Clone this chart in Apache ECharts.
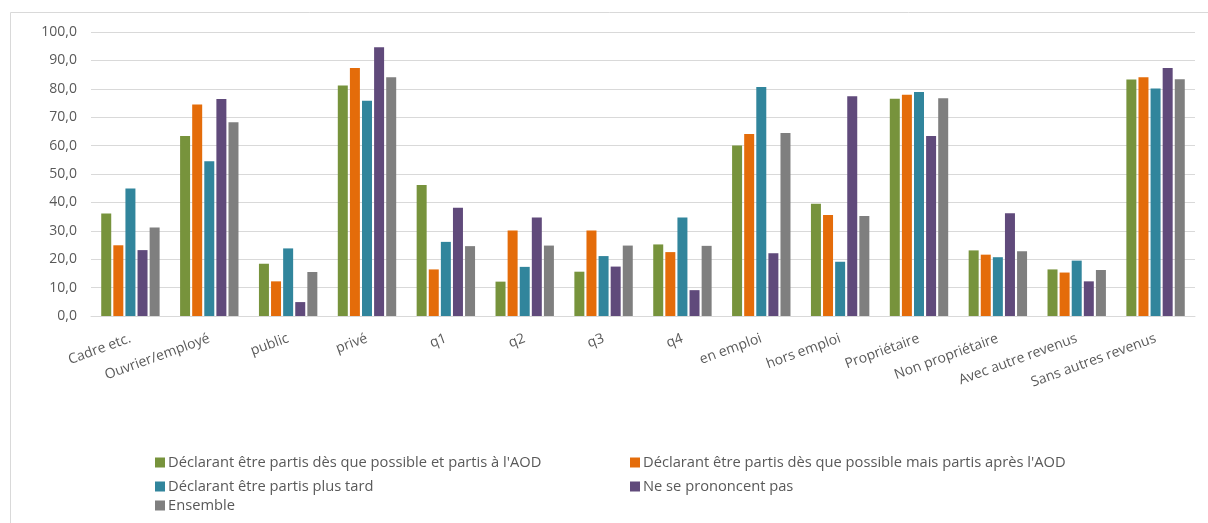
<!DOCTYPE html>
<html>
<head>
<meta charset="utf-8">
<script src="https://cdn.jsdelivr.net/npm/echarts@6/dist/echarts.min.js"></script>
<style>
  html, body { margin: 0; padding: 0; background: #ffffff; }
  #chart { width: 1208px; height: 523px; }
</style>
</head>
<body>
<div id="chart"></div>
<script>
// Categories on the horizontal axis
const categories = [
  'Cadre etc.', 'Ouvrier/employé', 'public', 'privé', 'q1', 'q2', 'q3', 'q4',
  'en emploi', 'hors emploi', 'Propriétaire', 'Non propriétaire',
  'Avec autre revenus', 'Sans autres revenus'
];

// Series names
const seriesNames = [
  "Déclarant être partis dès que possible et partis à l'AOD",
  "Déclarant être partis dès que possible mais partis après l'AOD",
  'Déclarant être partis plus tard',
  'Ne se prononcent pas',
  'Ensemble'
];

// Values (%) per category
const partisAOD      = [36.1, 63.4, 18.4, 81.2, 46.1, 12.1, 15.6, 25.2, 60.0, 39.5, 76.5, 23.1, 16.4, 83.3];
const partisApresAOD = [24.9, 74.5, 12.2, 87.3, 16.4, 30.1, 30.1, 22.5, 64.1, 35.6, 77.9, 21.6, 15.3, 84.1];
const partisPlusTard = [44.9, 54.5, 23.8, 75.8, 26.1, 17.3, 21.1, 34.7, 80.6, 19.1, 78.9, 20.7, 19.5, 80.1];
const nePrononcent   = [23.2, 76.4,  4.9, 94.6, 38.1, 34.7, 17.4,  9.1, 22.1, 77.4, 63.4, 36.2, 12.2, 87.3];
const ensemble       = [31.2, 68.2, 15.5, 84.1, 24.6, 24.8, 24.8, 24.7, 64.4, 35.2, 76.7, 22.8, 16.2, 83.4];

const seriesData = [partisAOD, partisApresAOD, partisPlusTard, nePrononcent, ensemble];
const colors = ['#77933C', '#E46C0A', '#31859C', '#604A7B', '#7F7F7F'];

// Y axis range
const yMin = 0, yMax = 100, yStep = 10;

const textColor = '#595959';
const gridColor = '#d9d9d9';
const axisFont = "'Open Sans', 'Liberation Sans', sans-serif";
const legendFont = "'Liberation Sans Narrow', 'Open Sans', sans-serif";

// Legend positions: two columns, three rows
const legendSlots = [
  { left: 155, top: 455 },
  { left: 630, top: 455 },
  { left: 155, top: 479 },
  { left: 630, top: 479 },
  { left: 155, top: 498 }
];

const chart = echarts.init(document.getElementById('chart'), null, { renderer: 'canvas' });

chart.setOption({
  animation: false,
  color: colors,
  grid: { left: 91, right: 13, top: 32, bottom: 207, containLabel: false },
  legend: seriesNames.map((name, i) => ({
    data: [name],
    left: legendSlots[i].left,
    top: legendSlots[i].top,
    icon: 'rect',
    itemWidth: 10,
    itemHeight: 10,
    padding: 0,
    textStyle: { color: textColor, fontSize: 14.7, fontFamily: legendFont, padding: [0, 0, 0, -2] }
  })),
  xAxis: {
    type: 'category',
    data: categories,
    axisLine: { show: true, lineStyle: { color: gridColor, width: 1 } },
    axisTick: { show: false },
    axisLabel: {
      rotate: 20,
      interval: 0,
      margin: 22,
      color: textColor,
      fontSize: 14,
      fontFamily: axisFont
    }
  },
  yAxis: {
    type: 'value',
    min: yMin,
    max: yMax,
    interval: yStep,
    axisLine: { show: false },
    axisTick: { show: false },
    splitLine: { show: true, lineStyle: { color: gridColor, width: 1 } },
    axisLabel: {
      margin: 14,
      color: textColor,
      fontSize: 14,
      fontFamily: axisFont,
      formatter: v => v.toFixed(1).replace('.', ',')
    }
  },
  series: seriesNames.map((name, i) => ({
    name: name,
    type: 'bar',
    data: seriesData[i],
    barWidth: 10,
    barGap: '21%',
    itemStyle: { color: colors[i] }
  })),
  graphic: [
    // chart area frame (top and left edges)
    { type: 'line', silent: true, shape: { x1: 10.5, y1: 12.5, x2: 1208, y2: 12.5 }, style: { stroke: gridColor, lineWidth: 1 } },
    { type: 'line', silent: true, shape: { x1: 10.5, y1: 12.5, x2: 10.5, y2: 523 }, style: { stroke: gridColor, lineWidth: 1 } }
  ]
});
</script>
</body>
</html>
